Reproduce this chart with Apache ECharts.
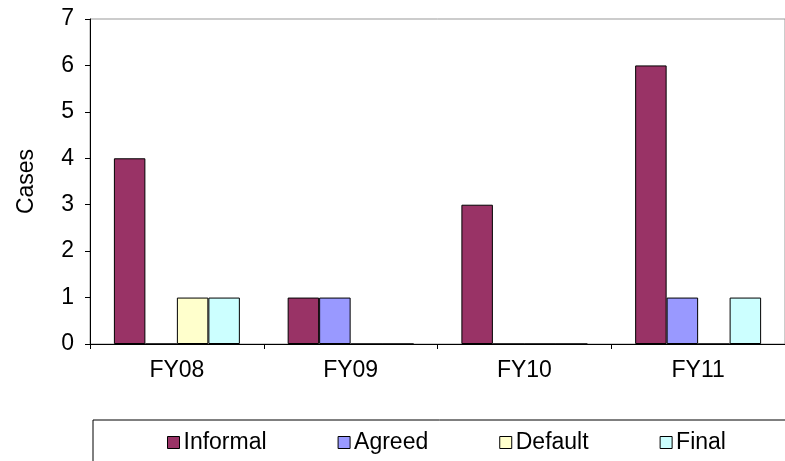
<!DOCTYPE html>
<html>
<head>
<meta charset="utf-8">
<script src="https://cdn.jsdelivr.net/npm/echarts@6/dist/echarts.min.js"></script>
<style>
  html, body { margin: 0; padding: 0; background: #fff; }
  #chart { width: 785px; height: 461px; }
</style>
</head>
<body>
<div id="chart"></div>
<script>
// 类别与数据
const categories = ["FY08", "FY09", "FY10", "FY11"];
const informal = [4, 1, 3, 6];
const agreed = [0, 1, 0, 1];
const defaultCases = [1, 0, 0, 0];
const finalCases = [1, 0, 0, 1];

const FONT = "Liberation Sans, Arial, sans-serif";

function barSeries(name, data, color) {
  return {
    name,
    type: "bar",
    data,
    barGap: "0%",
    barCategoryGap: "27.5%",
    itemStyle: { color, borderColor: "#000", borderWidth: 1 },
  };
}

const chart = echarts.init(document.getElementById("chart"));
chart.setOption({
  backgroundColor: "#fff",
  animation: false,
  textStyle: { fontFamily: FONT, color: "#000" },
  grid: {
    left: 90, right: -11, top: 19, bottom: 117,
    show: true, borderColor: "#999", borderWidth: 1, backgroundColor: "transparent",
  },
  // 图例外框向右、向下超出画布
  legend: {
    left: 93, top: 420,
    width: 660,
    orient: "horizontal",
    padding: [11, 80, 40, 74],
    borderColor: "#000", borderWidth: 1,
    itemWidth: 12, itemHeight: 12, itemGap: 71,
    icon: "rect",
    itemStyle: { borderColor: "#000", borderWidth: 1 },
    textStyle: { fontFamily: FONT, fontSize: 23, color: "#000", padding: [0, 0, 0, -1] },
    data: ["Informal", "Agreed", "Default", "Final"],
  },
  xAxis: {
    type: "category",
    data: categories,
    axisLine: { lineStyle: { color: "#000", width: 1 } },
    axisTick: { show: true, length: 5, lineStyle: { color: "#000" } },
    axisLabel: { color: "#000", fontSize: 23, fontFamily: FONT, margin: 15 },
  },
  yAxis: {
    type: "value",
    min: 0, max: 7, interval: 1,
    name: "Cases",
    nameLocation: "middle",
    nameGap: 52,
    nameTextStyle: { fontSize: 23, fontFamily: FONT, color: "#000" },
    axisLine: { show: true, lineStyle: { color: "#000", width: 1 } },
    axisTick: { show: true, length: 5, lineStyle: { color: "#000" } },
    axisLabel: { color: "#000", fontSize: 23, fontFamily: FONT, margin: 16 },
    splitLine: { show: false },
  },
  series: [
    barSeries("Informal", informal, "#993366"),
    barSeries("Agreed", agreed, "#9999FF"),
    barSeries("Default", defaultCases, "#FFFFCC"),
    barSeries("Final", finalCases, "#CCFFFF"),
  ],
});
</script>
</body>
</html>
